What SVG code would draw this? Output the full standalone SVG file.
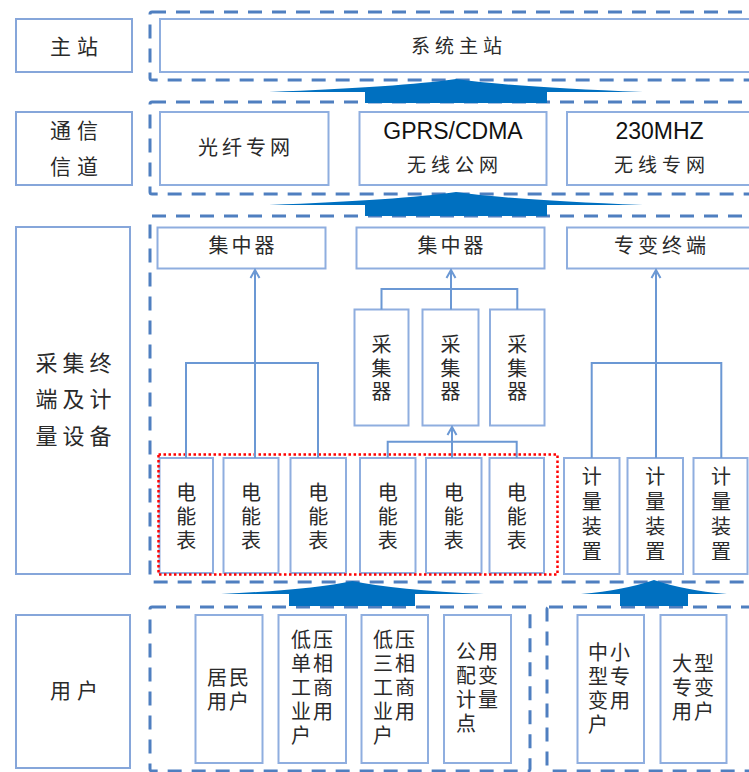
<svg xmlns="http://www.w3.org/2000/svg" width="749" height="772" viewBox="0 0 749 772">
<style>
.lbl{fill:#fff;stroke:#86A6DA;stroke-width:2}
.box{fill:#fff;stroke:#8FAEDF;stroke-width:2}
.grp{fill:none;stroke:#4F7FC0;stroke-width:3;stroke-dasharray:14 10}
.red{fill:none;stroke:#FF0000;stroke-width:2.5;stroke-dasharray:2.5 2.5}
.t{font-family:"Liberation Sans","Noto Sans CJK SC",sans-serif;font-size:20px;fill:#2a2a2a;text-anchor:middle;dominant-baseline:central}
.tl{font-family:"Liberation Sans","Noto Sans CJK SC",sans-serif;font-size:20px;fill:#2a2a2a;dominant-baseline:central;letter-spacing:2px}
.ta{font-family:"Liberation Sans",Arial,sans-serif;font-size:23px;fill:#111;text-anchor:middle}
.c{fill:none;stroke:#6B98D4;stroke-width:2}
.arr{fill:#0070C0}
</style>
<defs>
<marker id="ah" viewBox="-10 -6 12 12" refX="0" refY="0" markerWidth="12" markerHeight="12" orient="auto" markerUnits="userSpaceOnUse">
<path d="M-8,-4.5 L0,0 L-8,4.5" fill="none" stroke="#6B98D4" stroke-width="2"/>
</marker>
</defs>

<!-- layer groups (dashed) -->
<g id="groups">
<rect class="grp" x="150" y="12" width="620" height="68" rx="2"/>
<rect class="grp" x="150" y="102" width="620" height="92" rx="2"/>
<rect class="grp" x="150" y="216" width="620" height="366" rx="2"/>
<rect class="grp" x="150" y="607" width="380" height="164" rx="2"/>
<rect class="grp" x="547" y="607" width="230" height="164" rx="2"/>
</g>

<!-- left labels -->
<g id="lbl-master"><rect class="lbl" x="16" y="19" width="116" height="53"/><text class="t" x="77" y="46" style="font-size:21px;letter-spacing:6px">主站</text></g>
<g id="lbl-comm"><rect class="lbl" x="16" y="112" width="116" height="73"/><text class="t" x="77" y="130" style="font-size:21px;letter-spacing:6px">通信</text><text class="t" x="77" y="166" style="font-size:21px;letter-spacing:6px">信道</text></g>
<g id="lbl-term"><rect class="lbl" x="16" y="227" width="114" height="347"/>
<text class="t" x="76" y="363" style="font-size:22px;letter-spacing:5px">采集终</text>
<text class="t" x="76" y="399" style="font-size:22px;letter-spacing:5px">端及计</text>
<text class="t" x="76" y="436" style="font-size:22px;letter-spacing:5px">量设备</text></g>
<g id="lbl-user"><rect class="lbl" x="16" y="615" width="114" height="153"/><text class="t" x="77" y="690" style="font-size:21px;letter-spacing:6px">用户</text></g>

<!-- master -->
<g id="n-master"><rect class="box" x="160" y="19" width="592" height="53"/><text class="t" x="459" y="46" style="font-size:19px;letter-spacing:5px">系统主站</text></g>

<!-- comm -->
<g id="n-fiber"><rect class="box" x="160" y="112" width="168.5" height="73"/><text class="t" x="246" y="148" style="letter-spacing:4px">光纤专网</text></g>
<g id="n-gprs"><rect class="box" x="359.5" y="112" width="187" height="73"/><text class="ta" x="453" y="139">GPRS/CDMA</text><text class="t" x="455" y="165" style="font-size:19px;letter-spacing:5px">无线公网</text></g>
<g id="n-230"><rect class="box" x="567" y="112" width="186" height="73"/><text class="ta" x="659.5" y="139">230MHZ</text><text class="t" x="662" y="165" style="font-size:19px;letter-spacing:5px">无线专网</text></g>

<!-- concentrators / terminal -->
<g id="n-conc1"><rect class="box" x="157.5" y="227.5" width="168" height="41"/><text class="t" x="243" y="246" style="letter-spacing:3px">集中器</text></g>
<g id="n-conc2"><rect class="box" x="356.5" y="227.5" width="188" height="41"/><text class="t" x="452" y="246" style="letter-spacing:3px">集中器</text></g>
<g id="n-term"><rect class="box" x="567" y="227.5" width="186" height="41"/><text class="t" x="662" y="246" style="letter-spacing:4px">专变终端</text></g>

<!-- collectors -->
<g id="n-col1"><rect class="box" x="354.5" y="309.5" width="54" height="116"/><text class="t"><tspan x="381.5" y="345">采</tspan><tspan x="381.5" y="368.5">集</tspan><tspan x="381.5" y="392">器</tspan></text></g>
<g id="n-col2"><rect class="box" x="422.5" y="309.5" width="56" height="116"/><text class="t"><tspan x="450.5" y="345">采</tspan><tspan x="450.5" y="368.5">集</tspan><tspan x="450.5" y="392">器</tspan></text></g>
<g id="n-col3"><rect class="box" x="490" y="309.5" width="54.5" height="116"/><text class="t"><tspan x="517.3" y="345">采</tspan><tspan x="517.3" y="368.5">集</tspan><tspan x="517.3" y="392">器</tspan></text></g>

<!-- meters -->
<g id="n-m1"><rect class="box" x="159.5" y="458" width="53.5" height="115"/><text class="t"><tspan x="186.2" y="493">电</tspan><tspan x="186.2" y="517">能</tspan><tspan x="186.2" y="541">表</tspan></text></g>
<g id="n-m2"><rect class="box" x="223.5" y="458" width="55" height="115"/><text class="t"><tspan x="251" y="493">电</tspan><tspan x="251" y="517">能</tspan><tspan x="251" y="541">表</tspan></text></g>
<g id="n-m3"><rect class="box" x="290.5" y="458" width="55.5" height="115"/><text class="t"><tspan x="318.2" y="493">电</tspan><tspan x="318.2" y="517">能</tspan><tspan x="318.2" y="541">表</tspan></text></g>
<g id="n-m4"><rect class="box" x="360" y="458" width="55.5" height="115"/><text class="t"><tspan x="387.7" y="493">电</tspan><tspan x="387.7" y="517">能</tspan><tspan x="387.7" y="541">表</tspan></text></g>
<g id="n-m5"><rect class="box" x="426" y="458" width="55.5" height="115"/><text class="t"><tspan x="453.7" y="493">电</tspan><tspan x="453.7" y="517">能</tspan><tspan x="453.7" y="541">表</tspan></text></g>
<g id="n-m6"><rect class="box" x="489.5" y="458" width="54.5" height="115"/><text class="t"><tspan x="516.7" y="493">电</tspan><tspan x="516.7" y="517">能</tspan><tspan x="516.7" y="541">表</tspan></text></g>

<g id="n-d1"><rect class="box" x="564" y="458" width="55.5" height="116"/><text class="t"><tspan x="591.7" y="477">计</tspan><tspan x="591.7" y="502">量</tspan><tspan x="591.7" y="527">装</tspan><tspan x="591.7" y="552">置</tspan></text></g>
<g id="n-d2"><rect class="box" x="627.5" y="458" width="55.5" height="116"/><text class="t"><tspan x="655.2" y="477">计</tspan><tspan x="655.2" y="502">量</tspan><tspan x="655.2" y="527">装</tspan><tspan x="655.2" y="552">置</tspan></text></g>
<g id="n-d3"><rect class="box" x="693.5" y="458" width="54" height="116"/><text class="t"><tspan x="721" y="477">计</tspan><tspan x="721" y="502">量</tspan><tspan x="721" y="527">装</tspan><tspan x="721" y="552">置</tspan></text></g>

<rect id="meter-highlight" class="red" x="158.5" y="454.5" width="399" height="120"/>

<!-- users -->
<g id="n-u1"><rect class="box" x="195.5" y="615" width="67" height="148"/><text class="tl"><tspan x="207" y="678">居民</tspan><tspan x="207" y="702">用户</tspan></text></g>
<g id="n-u2"><rect class="box" x="278.5" y="615" width="67.5" height="148"/><text class="tl"><tspan x="291" y="640">低压</tspan><tspan x="291" y="664">单相</tspan><tspan x="291" y="688">工商</tspan><tspan x="291" y="712">业用</tspan><tspan x="291" y="736">户</tspan></text></g>
<g id="n-u3"><rect class="box" x="361.5" y="615" width="66.5" height="148"/><text class="tl"><tspan x="373" y="640">低压</tspan><tspan x="373" y="664">三相</tspan><tspan x="373" y="688">工商</tspan><tspan x="373" y="712">业用</tspan><tspan x="373" y="736">户</tspan></text></g>
<g id="n-u4"><rect class="box" x="444" y="615" width="67" height="148"/><text class="tl"><tspan x="456" y="652">公用</tspan><tspan x="456" y="676">配变</tspan><tspan x="456" y="700">计量</tspan><tspan x="456" y="724">点</tspan></text></g>
<g id="n-u5"><rect class="box" x="577.5" y="615" width="66.5" height="148"/><text class="tl"><tspan x="588" y="653">中小</tspan><tspan x="588" y="677">型专</tspan><tspan x="588" y="701">变用</tspan><tspan x="588" y="725">户</tspan></text></g>
<g id="n-u6"><rect class="box" x="660.5" y="615" width="66" height="148"/><text class="tl"><tspan x="672" y="664">大型</tspan><tspan x="672" y="688">专变</tspan><tspan x="672" y="712">用户</tspan></text></g>

<!-- connectors -->
<g id="connectors">
<path class="c" d="M186,458 V363 H318 V458"/>
<path class="c" d="M255,458 V363"/>
<path class="c" d="M255,363 V270" marker-end="url(#ah)"/>
<path class="c" d="M381.5,309.5 V289 H517.3 V309.5"/>
<path class="c" d="M451,309.5 V270" marker-end="url(#ah)"/>
<path class="c" d="M387.7,458 V441.7 H516.7 V458"/>
<path class="c" d="M452,458 V441.7"/>
<path class="c" d="M452,441.7 V427" marker-end="url(#ah)"/>
<path class="c" d="M591.7,458 V363 H721.3 V458"/>
<path class="c" d="M656,458 V363"/>
<path class="c" d="M656,363 V270" marker-end="url(#ah)"/>
<path class="arr" d="M269,92 Q400,87 456,79 Q512,87 643,92 L547,92 L547,103 L365,103 L365,92 Z"/>
<path class="arr" d="M269,205 Q400,200 456,192 Q512,200 643,205 L547,205 L547,216 L365,216 L365,205 Z"/>
<path class="arr" d="M221,594 Q310,590 352.5,581 Q395,590 484,594 L415,594 L415,606 L289,606 L289,594 Z"/>
<path class="arr" d="M581,594 Q625,590 654,580 Q683,590 727,594 L688,594 L688,606 L620,606 L620,594 Z"/>
</g>
</svg>
